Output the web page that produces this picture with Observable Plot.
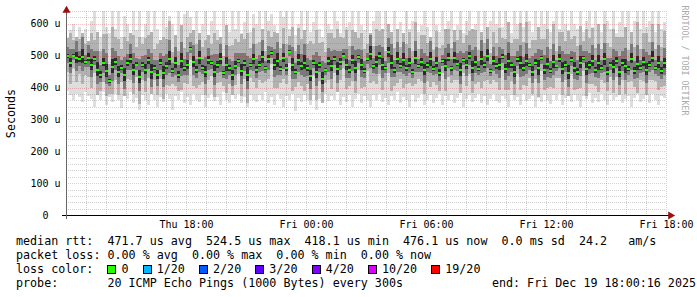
<!DOCTYPE html>
<html>
<head>
<meta charset="utf-8">
<script src="https://cdn.jsdelivr.net/npm/d3@7"></script>
<script src="https://cdn.jsdelivr.net/npm/@observablehq/plot@0.6"></script>
<style>
  html, body { margin: 0; padding: 0; background: #fff; }
  #wrap { width: 697px; height: 297px; position: relative; overflow: hidden; background: #fff; }
  #legend { font-family: "DejaVu Sans Mono", monospace; font-size: 11.7px; line-height: 14px;
            white-space: pre; color: #000; padding-left: 16px; padding-top: 2px; }
  .sq { display: inline-block; box-sizing: border-box; width: 9px; height: 9px; border: 1px solid #000;
        vertical-align: -1px; margin-right: calc(2ch - 9px); }
</style>
</head>
<body>
<div id="wrap"><div id="chart"></div><div id="legend"></div></div>
<script>
// ---- time range (UTC), step between samples ----
const startTime = Date.UTC(2025, 11, 18, 12, 0, 0);   // Thu 12:00
const endTime   = Date.UTC(2025, 11, 19, 18, 0, 0);   // Fri 18:00
const stepMinutes = 9;

// ---- median round-trip time per sample (microseconds) ----
const medians = [
 498,476,500,492,488,497,480,494,
 470,490,455,440,478,452,420,465,
 480,448,462,438,476,490,455,472,
 432,470,455,485,448,462,440,478,
 445,468,490,452,476,440,482,460,
 470,522,480,455,492,462,448,485,
 476,450,470,488,445,472,460,438,
 468,482,452,476,440,470,488,455,
 472,495,460,488,508,470,484,458,
 492,462,512,470,448,486,466,478,
 460,435,478,450,470,428,455,482,
 466,490,458,480,500,470,455,486,
 462,495,470,452,488,505,466,480,
 498,472,460,510,478,455,490,468,
 485,460,478,450,492,466,480,455,
 470,488,458,478,445,482,468,494,
 460,492,475,455,486,470,498,462,
 480,458,490,470,500,452,484,466,
 472,496,458,482,470,448,488,476,
 462,484,470,450,478,460,492,456,
 474,452,480,466,490,458,472,446,
 486,462,450,478,492,458,470,482,
 455,476,462,488,450,472,464,484,
 448,478,466,458,490,452,474,462,
 480,456,472,494,460,478,452,476
];

// ---- outer smoke: slowest ping per sample (us) ----
const smokeMax = [
 555,580,600,560,590,570,585,545,
 610,640,575,560,640,590,570,640,
 585,640,560,625,600,570,640,580,
 640,560,600,640,575,640,585,550,
 640,590,625,600,565,640,595,630,
 640,620,580,640,570,600,640,565,
 610,640,580,560,640,595,575,640,
 585,640,570,605,640,575,630,600,
 640,585,640,610,630,595,570,640,
 620,640,585,640,565,600,640,580,
 640,575,605,640,585,560,640,600,
 585,640,610,570,640,590,605,640,
 575,640,595,580,640,570,610,640,
 640,585,640,600,575,640,585,605,
 570,640,585,610,640,575,595,640,
 590,560,640,595,575,640,585,610,
 640,580,595,640,570,610,640,585,
 600,640,575,640,590,610,640,600,
 640,590,640,605,570,640,600,640,
 590,640,610,575,640,590,640,600,
 640,575,610,640,585,640,600,580,
 640,600,585,640,575,610,640,590,
 640,600,575,640,610,585,640,570,
 605,640,590,640,575,610,640,585,
 640,590,610,640,575,640,585,605
];

// ---- outer smoke: fastest ping per sample (us) ----
const smokeMin = [
 390,375,360,380,370,355,385,372,
 365,340,378,360,385,345,370,355,
 380,360,335,372,365,385,350,368,
 330,375,360,345,380,362,340,370,
 355,380,365,330,372,360,385,350,
 370,345,380,362,355,375,340,368,
 380,358,370,345,385,362,350,375,
 365,380,352,370,340,378,362,355,
 375,360,385,350,370,345,380,365,
 340,372,360,380,325,368,355,378,
 360,345,375,330,365,350,380,358,
 372,360,385,345,370,355,378,340,
 365,380,350,372,360,340,375,362,
 380,355,368,345,372,360,385,350,
 370,362,340,378,355,368,380,345,
 362,375,350,368,380,345,372,360,
 375,350,368,382,340,365,378,355,
 368,380,352,372,345,365,380,358,
 350,372,365,340,378,360,370,345,
 380,358,365,372,340,368,355,378,
 362,348,375,360,380,345,368,372,
 355,378,360,340,372,365,382,350,
 368,355,380,362,345,375,360,370,
 378,350,365,372,340,368,380,355,
 365,375,350,380,362,345,372,368
];

// ---- middle smoke: how far the 4th slowest / 4th fastest ping lies from the median (us) ----
const midUp = [
 70,95,50,110,65,120,55,85, 100,60,130,75,90,115,55,125, 80,105,60,120,70,95,110,55,
 125,65,100,80,130,60,95,70, 115,85,120,60,105,75,130,65, 90,50,110,80,125,65,100,85,
 60,120,80,105,55,130,70,95, 85,60,115,75,130,55,100,80, 70,115,55,90,50,105,125,65,
 95,75,50,120,65,100,85,130, 75,110,60,130,70,115,55,90, 105,65,125,80,55,110,75,95,
 120,60,100,70,50,130,65,105, 80,115,55,95,130,70,110,60, 125,75,95,65,115,55,85,110,
 70,125,60,100,80,50,115,90, 65,105,75,125,55,95,80,120, 100,60,130,70,110,55,90,75,
 115,60,95,130,70,105,65,125, 80,120,55,100,70,130,60,95, 110,70,120,50,85,115,75,130,
 65,100,80,115,55,125,85,105, 70,130,60,110,90,55,120,75, 110,80,125,60,100,75,130,60,
 90,115,70,105,60,120,75,100
];
const midDown = [
 50,65,40,75,45,85,40,60, 70,45,90,50,60,80,40,85, 55,70,45,80,50,65,75,40,
 85,45,70,55,90,40,65,50, 80,60,85,40,70,50,90,45, 60,35,75,55,85,45,70,60,
 40,80,55,70,40,90,50,65, 60,40,80,50,90,40,70,55, 50,80,40,60,35,70,85,45,
 65,50,35,80,45,70,60,90, 50,75,40,90,50,80,40,60, 70,45,85,55,40,75,50,65,
 80,40,70,50,35,90,45,70, 55,80,40,65,90,50,75,40, 85,50,65,45,80,40,60,75,
 50,85,40,70,55,35,80,60, 45,70,50,85,40,65,55,80, 70,40,90,50,75,40,60,50,
 80,40,65,90,50,70,45,85, 55,80,40,70,50,90,40,65, 75,50,80,35,60,80,50,90,
 45,70,55,80,40,85,60,70, 50,90,40,75,60,40,80,50, 75,55,85,40,70,50,90,40,
 60,80,50,70,40,85,50,70
];
// ---- inner smoke ----
const innerUp = [
 30,45,20,55,28,60,22,40, 50,25,60,32,42,55,20,58, 35,50,25,58,30,45,52,22,
 58,28,48,35,60,25,45,30, 55,38,58,25,50,32,60,28, 42,20,52,35,58,28,48,40,
 25,55,35,50,22,60,30,45, 40,25,55,32,60,22,48,35, 30,55,22,42,20,50,58,28,
 45,32,20,56,28,48,38,60, 32,52,25,60,30,55,22,42, 50,28,58,35,22,52,32,45,
 56,25,48,30,20,60,28,50, 35,55,22,45,60,30,52,25, 58,32,45,28,55,22,40,52,
 30,58,25,48,35,20,55,42, 28,50,32,58,22,45,35,56, 48,25,60,30,52,22,42,32,
 55,25,45,60,30,50,28,58, 35,56,22,48,30,60,25,45, 52,30,56,20,40,55,32,60,
 28,48,35,55,22,58,38,50, 30,60,25,52,42,22,56,32, 52,35,58,25,48,32,60,25,
 42,55,30,50,25,56,32,48
];
const innerDown = [
 22,32,15,40,20,45,16,30, 38,18,45,24,32,42,15,44, 26,38,18,44,22,34,40,16,
 44,20,36,26,45,18,34,22, 42,28,44,18,38,24,45,20, 32,14,40,26,44,20,36,30,
 18,42,26,38,16,45,22,34, 30,18,42,24,45,16,36,26, 22,42,16,32,14,38,44,20,
 34,24,14,42,20,36,28,45, 24,40,18,45,22,42,16,32, 38,20,44,26,16,40,24,34,
 42,18,36,22,14,45,20,38, 26,42,16,34,45,22,40,18, 44,24,34,20,42,16,30,40,
 22,44,18,36,26,14,42,32, 20,38,24,44,16,34,26,42, 36,18,45,22,40,16,32,24,
 42,18,34,45,22,38,20,44, 26,42,16,36,22,45,18,34, 40,22,42,14,30,42,24,45,
 20,36,26,42,16,44,28,38, 22,45,18,40,32,16,42,24, 40,26,44,18,36,24,45,18,
 32,42,22,38,18,42,24,36
];
// ---- core smoke (darkest) ----
const coreUp = [
 8,15,6,20,10,24,7,14, 18,9,25,11,15,22,6,23, 12,19,8,22,10,16,20,7,
 23,9,18,12,25,8,16,10, 21,13,23,8,19,11,25,9, 15,6,20,12,23,9,18,14,
 8,21,12,19,7,25,10,16, 14,8,21,11,25,7,18,12, 10,21,7,15,6,19,23,9,
 16,11,6,22,9,18,13,25, 11,20,8,25,10,21,7,15, 19,9,23,12,7,20,11,16,
 22,8,18,10,6,25,9,19, 12,21,7,16,25,10,20,8, 23,11,16,9,21,7,14,20,
 10,23,8,18,12,6,21,15, 9,19,11,23,7,16,12,22, 18,8,25,10,20,7,15,11,
 21,8,16,25,10,19,9,23, 12,22,7,18,10,25,8,16, 20,10,22,6,14,21,11,25,
 9,18,12,21,7,23,13,19, 10,25,8,20,15,7,22,11, 20,12,23,8,18,11,25,8,
 15,21,10,19,8,22,11,18
];
const coreDown = [
 7,12,5,16,9,19,6,11, 14,8,20,9,12,18,5,19, 10,15,7,18,8,13,16,6,
 19,7,14,10,20,6,13,8, 17,11,19,6,15,9,20,7, 12,5,16,10,19,7,14,11,
 6,17,10,15,5,20,8,13, 11,6,17,9,20,5,14,10, 8,17,5,12,5,15,19,7,
 13,9,5,18,7,14,11,20, 9,16,6,20,8,17,5,12, 15,7,19,10,5,16,9,13,
 18,6,14,8,5,20,7,15, 10,17,5,13,20,8,16,6, 19,9,13,7,17,5,11,16,
 8,19,6,14,10,5,17,12, 7,15,9,19,5,13,10,18, 14,6,20,8,16,5,12,9,
 17,6,13,20,8,15,7,19, 10,18,5,14,8,20,6,13, 16,8,18,5,11,17,9,20,
 7,14,10,17,5,19,11,15, 8,20,6,16,12,5,18,9, 16,10,19,6,14,9,20,6,
 12,17,8,15,6,18,9,14
];

// ---- axis ticks ----
const yTicks = [0, 100, 200, 300, 400, 500, 600];
const xTickLabels = ["Thu 18:00", "Fri 00:00", "Fri 06:00", "Fri 12:00", "Fri 18:00"];
const xTicks = [
  Date.UTC(2025, 11, 18, 18), Date.UTC(2025, 11, 19, 0), Date.UTC(2025, 11, 19, 6),
  Date.UTC(2025, 11, 19, 12), Date.UTC(2025, 11, 19, 18)
].map(t => new Date(t));

// ---- legend ----
const lossColors = ["#26ff00", "#00b8ff", "#0059ff", "#5e00ff", "#7e00ff", "#dd00ff", "#ff0000"];
const lossLabels = ["0", "1/20", "2/20", "3/20", "4/20", "10/20", "19/20"];
const legendLines = [
  "median rtt:  471.7 us avg  524.5 us max  418.1 us min  476.1 us now  0.0 ms sd  24.2   am/s",
  "packet loss: 0.00 % avg  0.00 % max  0.00 % min  0.00 % now"
];
const probeLine = "probe:       20 ICMP Echo Pings (1000 Bytes) every 300s";
const endLine = "end: Fri Dec 19 18:00:16 2025";

// ---- build table ----
const n = Math.min(medians.length, smokeMax.length, smokeMin.length, midUp.length, midDown.length,
                   innerUp.length, innerDown.length, coreUp.length, coreDown.length);
const stepMs = stepMinutes * 60000;
const rows = [];
for (let i = 0; i < n; i++) {
  const t1 = new Date(startTime + i * stepMs);
  const t2 = new Date(Math.min(startTime + (i + 1) * stepMs, endTime));
  const m = medians[i], lo = smokeMin[i], hi = smokeMax[i];
  rows.push({
    t1, t2, m, lo, hi,
    mlo: Math.max(lo, m - midDown[i]), mhi: Math.min(hi, m + midUp[i]),
    ilo: Math.max(lo, m - innerDown[i]), ihi: Math.min(hi, m + innerUp[i]),
    clo: m - coreDown[i], chi: m + coreUp[i]
  });
}

const t0 = new Date(startTime), tEnd = new Date(endTime);
const hours = d3.utcHour.range(t0, new Date(endTime + 1));
const majorX = hours.filter(d => d.getUTCHours() % 3 === 0);
const minorX = hours.filter(d => d.getUTCHours() % 3 !== 0);
const majorY = d3.range(100, 641, 100);
const minorY = d3.range(20, 641, 20).filter(v => v % 100 !== 0);
const pxPerMs = 600 / (endTime - startTime);

const crisp = {shapeRendering: "crispEdges"};
const minorGrid = {stroke: "rgba(120,120,120,0.35)", strokeDasharray: "1,1", ...crisp};
const majorGrid = {stroke: "rgba(230,0,0,0.24)", strokeDasharray: "1,1", ...crisp};
const chart = Plot.plot({
  width: 697, height: 232,
  marginLeft: 66, marginRight: 31, marginTop: 11, marginBottom: 17,
  x: {type: "utc", domain: [t0, tEnd]},
  y: {domain: [0, 640]},
  style: {fontFamily: "DejaVu Sans Mono", fontSize: "10px", background: "#fff", color: "#000", overflow: "visible"},
  marks: [
    Plot.rect(rows, {x1: "t1", x2: "t2", y1: "lo", y2: "hi", fill: "#dedede", clip: true, ...crisp}),
    Plot.rect(rows, {x1: "t1", x2: "t2", y1: "mlo", y2: "mhi", fill: "#b2b2b2", clip: true, ...crisp}),
    Plot.rect(rows, {x1: "t1", x2: "t2", y1: "ilo", y2: "ihi", fill: "#7a7a7a", clip: true, ...crisp}),
    Plot.rect(rows, {x1: "t1", x2: "t2", y1: "clo", y2: "chi", fill: "#2a2a2a", clip: true, ...crisp}),
    // grid on top of the smoke
    Plot.ruleY(minorY, minorGrid),
    Plot.ruleX(minorX, minorGrid),
    Plot.ruleY(majorY, majorGrid),
    Plot.ruleX(majorX, majorGrid),
    // median, coloured by loss (0 loss => green)
    Plot.rect(rows, {x1: "t1", x2: "t2", y1: d => d.m - 3.2, y2: d => d.m + 3.2, fill: lossColors[0], ...crisp}),
    // axis lines and arrows
    Plot.ruleY([{y: 0, a: new Date(startTime - 4 / pxPerMs), b: new Date(endTime + 3 / pxPerMs)}],
               {y: "y", x1: "a", x2: "b", stroke: "#000", ...crisp}),
    Plot.ruleX([{x: t0, a: -13, b: 645}], {x: "x", y1: "a", y2: "b", stroke: "#666", ...crisp}),
    Plot.dot([{x: tEnd, y: 0}], {x: "x", y: "y", symbol: "triangle", rotate: 90, r: 3, dx: 4, fill: "#9a1010", stroke: null}),
    Plot.dot([{x: t0, y: 640}], {x: "x", y: "y", symbol: "triangle", r: 3, dy: -1, fill: "#9a1010", stroke: null}),
    // axes
    Plot.axisY(yTicks, {tickSize: 0, tickPadding: 6, fill: "#000",
      tickFormat: d => d === 0 ? "0\u00a0\u00a0" : d + "\u00a0u"}),
    Plot.axisX(xTicks, {tickSize: 0, tickPadding: 5, fill: "#000",
      tickFormat: (d) => xTickLabels[xTicks.findIndex(t => +t === +d)]}),
    // titles
    Plot.text(["Seconds"], {frameAnchor: "left", rotate: -90, dx: -55, fontSize: 11.7, fill: "#000", textAnchor: "middle"}),
    Plot.text(["RRDTOOL / TOBI OETIKER"], {frameAnchor: "top-right", rotate: 90, dx: 21, dy: 49, fontSize: 8.3, fill: "#aaa", textAnchor: "middle"})
  ]
});
document.getElementById("chart").appendChild(chart);

// legend (HTML, below the SVG)
const lg = document.getElementById("legend");
legendLines.forEach(s => { const d = document.createElement("div"); d.textContent = s; lg.appendChild(d); });
const l3 = document.createElement("div");
l3.appendChild(document.createTextNode("loss color:  "));
lossLabels.forEach((lab, i) => {
  const s = document.createElement("span"); s.className = "sq"; s.style.background = lossColors[i];
  l3.appendChild(s);
  l3.appendChild(document.createTextNode(lab + (i < lossLabels.length - 1 ? "  " : "")));
});
lg.appendChild(l3);
const l4 = document.createElement("div");
l4.style.position = "relative";
l4.textContent = probeLine;
const endSpan = document.createElement("span");
endSpan.textContent = endLine;
endSpan.style.position = "absolute"; endSpan.style.right = (697 - 16 - 680) + "px"; endSpan.style.top = "0";
l4.appendChild(endSpan);
lg.appendChild(l4);
lg.style.width = (697 - 16) + "px";
</script>
</body>
</html>
